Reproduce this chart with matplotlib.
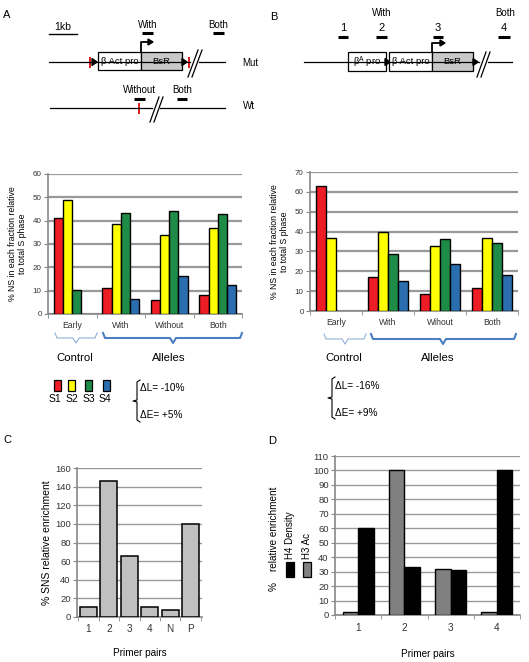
from matplotlib import pyplot as plt
from matplotlib.patches import Rectangle, Polygon
import numpy as np

plt.rcParams['font.family'] = ['Liberation Sans', 'DejaVu Sans']

W, H = 529, 662

# Panel A: % NS in each fraction relative to total S phase
groups_a = ["Early", "With", "Without", "Both"]
s1_a = [41, 11.3, 5.9, 8.3]
s2_a = [48.7, 38.7, 34, 37]
s3_a = [10.4, 43.3, 44.3, 43]
s4_a = [None, 6.6, 16.3, 12.3]

# Panel B: same measure, second construct
groups_b = ["Early", "With", "Wihout", "Both"]
s1_b = [63.1, 17.1, 8.4, 11.4]
s2_b = [36.8, 40, 32.5, 37]
s3_b = [None, 28.8, 36.5, 34.2]
s4_b = [None, 14.9, 23.5, 18.1]

fractions = ["S1", "S2", "S3", "S4"]
fraction_colors = ["#ee1c24", "#ffff00", "#1e8c46", "#2a6eb0"]

# Panel C: SNS relative enrichment
primers_c = ["1", "2", "3", "4", "N", "P"]
sns_c = [11, 146, 66, 10.5, 8, 100]

# Panel D: histone marks
primers_d = ["1", "2", "3", "4"]
h3ac_d = [1.8, 100, 31.5, 2.3]
h4_d = [60, 33.4, 30.8, 100]


def px_axes(fig, left, top, right, bottom):
    # axes placed with pixel coordinates (origin at top-left)
    return fig.add_axes([left / W, 1 - bottom / H, (right - left) / W, (bottom - top) / H])


def style_axes(ax, grid_lw, tick_size):
    for side in ["top", "right"]:
        ax.spines[side].set_visible(False)
    for side in ["left", "bottom"]:
        ax.spines[side].set_color("#888888")
        ax.spines[side].set_linewidth(1.2)
    ax.yaxis.grid(True, color="#999999", linewidth=grid_lw, zorder=0)
    ax.set_axisbelow(True)
    ax.tick_params(axis="y", labelsize=tick_size, colors="#888888", labelcolor="#333333",
                   length=3, pad=1.5)
    ax.tick_params(axis="x", which="major", length=0, labelcolor="#333333")
    ax.tick_params(axis="x", which="minor", length=3, colors="#888888")


def grouped_bars(ax, groups, series, ymax, step):
    x = np.arange(len(groups))
    width = 0.19
    for k, vals in enumerate(series):
        for i, v in enumerate(vals):
            if v is None:
                continue
            ax.bar(x[i] + (k - 1.5) * width, v, width, color=fraction_colors[k],
                   edgecolor="black", linewidth=1, zorder=3)
    ax.set_xlim(-0.5, len(groups) - 0.5)
    ax.set_ylim(0, ymax)
    ax.set_yticks(np.arange(0, ymax + 1, step))
    ax.set_xticks(x)
    ax.set_xticklabels(groups, fontsize=6.2)
    ax.set_xticks(np.arange(-0.5, len(groups)), minor=True)
    style_axes(ax, 1.6, 5.8)
    ax.tick_params(axis="x", pad=5)


def brace_down(ov, x0, x1, xc, y, color, lw):
    # horizontal curly bracket opening upward with a tip pointing down
    ov.plot([x0, x0 + 2, xc - 3, xc, xc + 3, x1 - 2, x1],
            [y - 5, y, y, y + 5, y, y, y - 5], color=color, lw=lw, solid_joinstyle="round")


def brace_left(ov, x, y0, y1):
    ym = (y0 + y1) / 2
    ov.plot([x + 3, x, x, x - 4, x, x, x + 3], [y0, y0 + 2, ym - 1, ym, ym + 1, y1 - 2, y1],
            color="black", lw=0.8)


def box(ov, x0, x1, y0, y1, face, label, fs=6.8):
    ov.add_patch(Rectangle((x0, y0), x1 - x0, y1 - y0, facecolor=face, edgecolor="black", lw=0.9))
    ov.text((x0 + x1) / 2, (y0 + y1) / 2, label, ha="center", va="center", fontsize=fs)


def tri(ov, x, y):
    ov.add_patch(Polygon([(x, y - 3.5), (x, y + 3.5), (x + 5, y)], closed=True, color="black"))


def red_mark(ov, x, y):
    ov.add_patch(Rectangle((x - 0.8, y - 5.5), 1.6, 11, color="#e0201c", lw=0))


def primer(ov, x0, x1, y, label=None, ty=None, fs=7):
    ov.plot([x0, x1], [y, y], color="black", lw=2.2, solid_capstyle="butt")
    if label is not None:
        ov.text((x0 + x1) / 2, ty, label, ha="center", va="center", fontsize=fs)


def break_mark(ov, x, y0, y1, dx):
    for off in [0, 4]:
        ov.plot([x + off, x + off + dx], [y1, y0], color="black", lw=0.9)


def tss_arrow(ov, x, ybox, ytop, xend):
    ov.plot([x, x, xend - 3], [ybox, ytop, ytop], color="black", lw=1.3)
    ov.add_patch(Polygon([(xend - 4, ytop - 3), (xend - 4, ytop + 3), (xend + 1, ytop)],
                         closed=True, color="black"))


def draw_schematics(ov):
    # Panel A construct
    ov.text(3, 15, "A", fontsize=8, va="center")
    ov.plot([49, 77], [34, 34], color="black", lw=1)
    ov.text(63, 27, "1kb", fontsize=7.5, ha="center", va="center")
    primer(ov, 142, 153, 33, "With", 25)
    primer(ov, 213, 224, 33, "Both", 25)
    ov.plot([49, 190], [62, 62], color="black", lw=0.9)
    ov.plot([199, 225], [62, 62], color="black", lw=0.9)
    red_mark(ov, 90, 62)
    tri(ov, 92, 62)
    box(ov, 98, 141, 52, 70, "white", "β Act pro")
    box(ov, 141, 182, 52, 70, "#c8c8c8", "BsR")
    tss_arrow(ov, 141, 52, 42, 152)
    tri(ov, 182, 62)
    red_mark(ov, 189, 62)
    break_mark(ov, 188, 50, 77, 10)
    ov.text(242, 63, "Mut", fontsize=7, va="center")
    primer(ov, 134, 145, 99, "Without", 90)
    primer(ov, 177, 187, 99, "Both", 90)
    ov.plot([50, 152], [108, 108], color="black", lw=0.9)
    ov.plot([160, 225], [108, 108], color="black", lw=0.9)
    red_mark(ov, 139, 108)
    break_mark(ov, 150, 97, 122, 9)
    ov.text(243, 106, "Wt", fontsize=7, va="center")

    # Panel B construct
    ov.text(270, 17, "B", fontsize=8, va="center")
    ov.text(382, 13, "With", fontsize=7, ha="center", va="center")
    ov.text(505, 13, "Both", fontsize=7, ha="center", va="center")
    primer(ov, 338, 348, 37, "1", 28, 8)
    primer(ov, 376, 387, 37, "2", 28, 8)
    primer(ov, 433, 443, 37, "3", 28, 8)
    primer(ov, 498, 510, 37, "4", 28, 8)
    ov.plot([304, 479], [62, 62], color="black", lw=0.9)
    ov.plot([488, 512], [62, 62], color="black", lw=0.9)
    box(ov, 348, 386, 52, 71, "white", r"β$^{\mathrm{A}}$ pro")
    tri(ov, 385, 62)
    box(ov, 389, 432, 52, 71, "white", "β Act pro")
    box(ov, 432, 473, 52, 71, "#c8c8c8", "BsR")
    tss_arrow(ov, 432, 52, 43, 444)
    tri(ov, 473, 62)
    break_mark(ov, 477, 52, 77, 9)


def draw_annotations(ov):
    # group braces under A and B
    brace_down(ov, 55, 97, 76, 338, "#8fb0d6", 0.8)
    brace_down(ov, 103, 242, 173, 338, "#4a7fc0", 1.5)
    ov.text(75, 358, "Control", fontsize=8.2, ha="center", va="center")
    ov.text(169, 358, "Alleles", fontsize=8.2, ha="center", va="center")
    brace_down(ov, 324, 366, 345, 339, "#8fb0d6", 0.8)
    brace_down(ov, 371, 516, 443, 339, "#4a7fc0", 1.5)
    ov.text(344, 358, "Control", fontsize=8.2, ha="center", va="center")
    ov.text(438, 358, "Alleles", fontsize=8.2, ha="center", va="center")

    # fraction legend
    sq_x = [57, 71, 88, 106]
    lab_x = [55, 72, 89, 105]
    for k in range(4):
        ov.add_patch(Rectangle((sq_x[k] - 3.5, 380), 7, 11, facecolor=fraction_colors[k],
                               edgecolor="black", lw=0.9))
        ov.text(lab_x[k], 399, fractions[k], fontsize=7.5, ha="center", va="center")

    brace_left(ov, 137, 380, 422)
    ov.text(140, 388, "ΔL= -10%", fontsize=7.2, va="center")
    ov.text(140, 415, "ΔE= +5%", fontsize=7.2, va="center")
    brace_left(ov, 332, 377, 419)
    ov.text(335, 386, "ΔL= -16%", fontsize=7.2, va="center")
    ov.text(335, 413, "ΔE= +9%", fontsize=7.2, va="center")

    ov.text(3, 440, "C", fontsize=8, va="center")
    ov.text(268, 441, "D", fontsize=8, va="center")

    # vertical legend of panel D
    ov.add_patch(Rectangle((286, 562), 8, 15, facecolor="black", edgecolor="black", lw=0.9))
    ov.text(290, 559, "H4 Density", fontsize=7, rotation=90, ha="center", va="bottom")
    ov.add_patch(Rectangle((303, 562), 8, 15, facecolor="#808080", edgecolor="black", lw=0.9))
    ov.text(307, 559, "H3 Ac", fontsize=7, rotation=90, ha="center", va="bottom")


def main():
    fig = plt.figure(figsize=(W / 100, H / 100), dpi=100)

    ov = fig.add_axes([0, 0, 1, 1])
    ov.set_xlim(0, W)
    ov.set_ylim(H, 0)
    ov.axis("off")
    draw_schematics(ov)
    draw_annotations(ov)

    # Panel A chart
    ax_a = px_axes(fig, 48, 174, 242, 314)
    grouped_bars(ax_a, groups_a, [s1_a, s2_a, s3_a, s4_a], 60, 10)
    ax_a.set_ylabel("% NS in each fraction relative\nto total S phase", fontsize=6.3, labelpad=4)

    # Panel B chart
    ax_b = px_axes(fig, 310, 172, 518, 311)
    grouped_bars(ax_b, groups_b, [s1_b, s2_b, s3_b, s4_b], 70, 10)
    ax_b.set_ylabel("% NS in each fraction relative\nto total S phase", fontsize=6.3, labelpad=4)

    # Panel C chart
    ax_c = px_axes(fig, 77, 468, 202, 617)
    xc = np.arange(len(primers_c))
    ax_c.bar(xc, sns_c, 0.85, color="#c0c0c0", edgecolor="black", linewidth=1.1, zorder=3)
    ax_c.set_xlim(-0.55, len(primers_c) - 0.45)
    ax_c.set_ylim(0, 160)
    ax_c.set_yticks(np.arange(0, 161, 20))
    ax_c.set_xticks(xc)
    ax_c.set_xticklabels(primers_c, fontsize=7.2)
    ax_c.set_xticks(np.arange(-0.5, len(primers_c)), minor=True)
    style_axes(ax_c, 1.0, 6.8)
    ax_c.tick_params(axis="x", pad=5)
    ax_c.set_ylabel("% SNS relative enrichment", fontsize=7.5, labelpad=2)
    ax_c.set_xlabel("Primer pairs", fontsize=7.2, labelpad=10)

    # Panel D chart
    ax_d = px_axes(fig, 335, 456, 520, 615)
    xd = np.arange(len(primers_d))
    ax_d.bar(xd - 0.167, h3ac_d, 0.333, color="#808080", edgecolor="black", linewidth=1, zorder=3)
    ax_d.bar(xd + 0.167, h4_d, 0.333, color="black", edgecolor="black", linewidth=1, zorder=3)
    ax_d.set_xlim(-0.5, len(primers_d) - 0.5)
    ax_d.set_ylim(0, 110)
    ax_d.set_yticks(np.arange(0, 111, 10))
    ax_d.set_xticks(xd)
    ax_d.set_xticklabels(primers_d, fontsize=7.2)
    ax_d.set_xticks(np.arange(-0.5, len(primers_d)), minor=True)
    style_axes(ax_d, 1.0, 6.8)
    ax_d.tick_params(axis="x", pad=6)
    ax_d.set_xlabel("Primer pairs", fontsize=7.2, labelpad=11)
    fig.text(274 / W, 1 - 539 / H, "%    relative enrichment", fontsize=7.2, rotation=90,
             ha="center", va="center")

    plt.savefig("out.png", dpi=100)


if __name__ == "__main__":
    main()
